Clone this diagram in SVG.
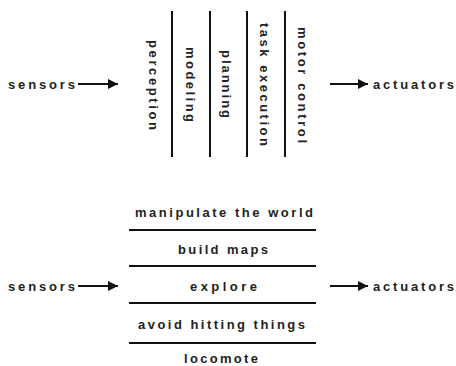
<svg xmlns="http://www.w3.org/2000/svg" width="456" height="366" viewBox="0 0 456 366">
<defs>
<style>
text{font-family:"Liberation Sans",Arial,sans-serif;font-size:13px;font-weight:bold;fill:#222}
.m{text-anchor:middle}
.ln{stroke:#111;stroke-width:2;fill:none}
.ar{stroke:#111;stroke-width:2;fill:none;marker-end:url(#ah)}
</style>
<marker id="ah" viewBox="0 0 10 10" refX="10" refY="5" markerUnits="userSpaceOnUse" markerWidth="15" markerHeight="10" orient="auto">
<path d="M0,0 L10,5 L0,10 Z" fill="#111"/>
</marker>
</defs>
<rect width="456" height="366" fill="#fff"/>

<g id="top">
<g id="top-sensors"><text x="8" y="88.5" textLength="67" lengthAdjust="spacing">sensors</text></g>
<g id="top-layers">
<g id="perception"><text class="m" transform="translate(149,85) rotate(90)" textLength="90" lengthAdjust="spacing">perception</text></g>
<g id="modeling"><text class="m" transform="translate(186,84.5) rotate(90)" textLength="75" lengthAdjust="spacing">modeling</text></g>
<g id="planning"><text class="m" transform="translate(222,84) rotate(90)" textLength="68" lengthAdjust="spacing">planning</text></g>
<g id="task-execution"><text class="m" transform="translate(260,84.5) rotate(90)" textLength="123" lengthAdjust="spacing">task execution</text></g>
<g id="motor-control"><text class="m" transform="translate(298,85) rotate(90)" textLength="116" lengthAdjust="spacing">motor control</text></g>
</g>
<g id="top-actuators"><text x="373" y="88.5" textLength="81" lengthAdjust="spacing">actuators</text></g>
</g>

<g id="bottom">
<g id="bottom-sensors"><text x="8" y="290.5" textLength="67" lengthAdjust="spacing">sensors</text></g>
<g id="manipulate"><text class="m" x="224" y="216.5" textLength="178" lengthAdjust="spacing">manipulate the world</text></g>
<g id="build-maps"><text class="m" x="223" y="253.5" textLength="90" lengthAdjust="spacing">build maps</text></g>
<g id="explore"><text class="m" x="223.5" y="290.5" textLength="67" lengthAdjust="spacing">explore</text></g>
<g id="avoid"><text class="m" x="221.5" y="328.5" textLength="167" lengthAdjust="spacing">avoid hitting things</text></g>
<g id="locomote"><text class="m" x="221" y="362.5" textLength="74" lengthAdjust="spacing">locomote</text></g>
<g id="bottom-actuators"><text x="373" y="290.5" textLength="81" lengthAdjust="spacing">actuators</text></g>
</g>

<g id="connectors">
<line class="ln" x1="172" y1="11" x2="172" y2="157"/>
<line class="ln" x1="210" y1="11" x2="210" y2="157"/>
<line class="ln" x1="247" y1="11" x2="247" y2="157"/>
<line class="ln" x1="285" y1="11" x2="285" y2="157"/>
<line class="ln" x1="129" y1="230" x2="316" y2="230"/>
<line class="ln" x1="129" y1="266" x2="316" y2="266"/>
<line class="ln" x1="129" y1="303" x2="316" y2="303"/>
<line class="ln" x1="129" y1="343" x2="316" y2="343"/>
<line class="ar" x1="78" y1="84" x2="118" y2="84"/>
<line class="ar" x1="330" y1="84" x2="368" y2="84"/>
<line class="ar" x1="78" y1="286" x2="118" y2="286"/>
<line class="ar" x1="330" y1="286" x2="368" y2="286"/>
</g>
</svg>
